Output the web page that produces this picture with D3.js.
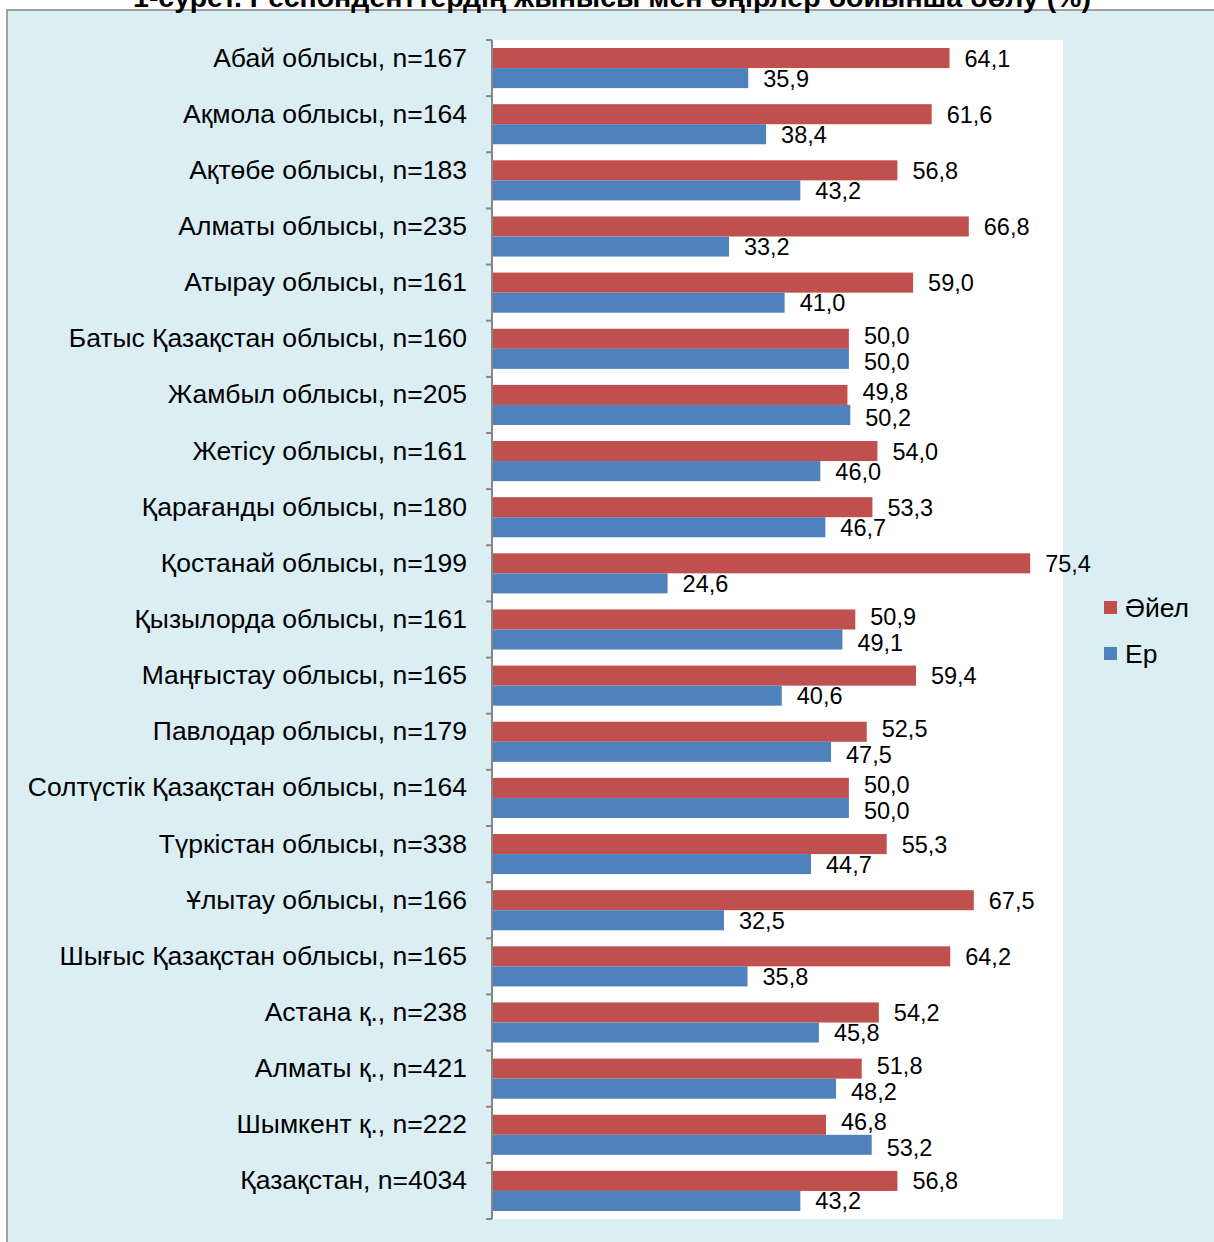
<!DOCTYPE html>
<html>
<head>
<meta charset="utf-8">
<script src="https://cdn.jsdelivr.net/npm/d3@7"></script>
<style>
  body { margin: 0; background: #fff; }
  svg { display: block; font-family: "Liberation Sans", Arial, sans-serif; }
</style>
</head>
<body>
<svg id="canvas" width="1214" height="1242"></svg>
<script>
let regions = [
  "Абай облысы, n=167", "Ақмола облысы, n=164", "Ақтөбе облысы, n=183",
  "Алматы облысы, n=235", "Атырау облысы, n=161", "Батыс Қазақстан облысы, n=160",
  "Жамбыл облысы, n=205", "Жетісу облысы, n=161", "Қарағанды облысы, n=180",
  "Қостанай облысы, n=199", "Қызылорда облысы, n=161", "Маңғыстау облысы, n=165",
  "Павлодар облысы, n=179", "Солтүстік Қазақстан облысы, n=164", "Түркістан облысы, n=338",
  "Ұлытау облысы, n=166", "Шығыс Қазақстан облысы, n=165", "Астана қ., n=238",
  "Алматы қ., n=421", "Шымкент қ., n=222", "Қазақстан, n=4034"
]
let female = [64.1, 61.6, 56.8, 66.8, 59.0, 50.0, 49.8, 54.0, 53.3, 75.4, 50.9,
              59.4, 52.5, 50.0, 55.3, 67.5, 64.2, 54.2, 51.8, 46.8, 56.8]
let male = [35.9, 38.4, 43.2, 33.2, 41.0, 50.0, 50.2, 46.0, 46.7, 24.6, 49.1,
            40.6, 47.5, 50.0, 44.7, 32.5, 35.8, 45.8, 48.2, 53.2, 43.2]
let seriesNames = ["Әйел", "Ер"]
let seriesColors = ["#c0504d", "#4f81bd"]
let title = "1-сурет. Респонденттердің жынысы мен өңірлер бойынша бөлу (%)"

let canvas = d3.select("#canvas")

// chart area
canvas.append("rect")
  .attr("x", 7).attr("y", 10).attr("width", 1220).attr("height", 1250)
  .attr("fill", "#dbeef4").attr("stroke", "#868686").attr("stroke-width", 1.5)

canvas.append("text")
  .attr("x", 612).attr("y", 7)
  .attr("text-anchor", "middle")
  .attr("font-size", 28.5).attr("font-weight", "bold")
  .text(title)

let plot = { left: 492, top: 40, right: 1063, bottom: 1219 }

canvas.append("rect")
  .attr("x", plot.left).attr("y", plot.top)
  .attr("width", plot.right - plot.left).attr("height", plot.bottom - plot.top)
  .attr("fill", "#fff")

let xScale = d3.scaleLinear().domain([0, 80]).range([plot.left, plot.right])
let yScale = d3.scaleBand().domain(regions).range([plot.top, plot.bottom])
let inner = d3.scaleBand().domain(seriesNames).range([0, yScale.bandwidth()]).paddingOuter(0.4)

let rows = regions.map((r, i) => ({ region: r, values: [female[i], male[i]] }))

let group = canvas.selectAll("g.row")
  .data(rows)
  .enter()
  .append("g")
  .attr("class", "row")
  .attr("transform", d => "translate(0," + yScale(d.region) + ")")

group.selectAll("rect")
  .data(d => d.values.map((v, k) => ({ v: v, k: k })))
  .enter()
  .append("rect")
  .attr("x", xScale(0))
  .attr("y", d => inner(seriesNames[d.k]))
  .attr("width", d => xScale(d.v) - xScale(0))
  .attr("height", inner.bandwidth())
  .attr("fill", d => seriesColors[d.k])

// labels: nudge apart when the two ends are close together
let labelW = 46
group.selectAll("text.val")
  .data(d => {
    let close = Math.abs(xScale(d.values[0]) - xScale(d.values[1])) < labelW
    return d.values.map((v, k) => ({ v: v, k: k, shift: close ? (k === 0 ? -3 : 3) : 0 }))
  })
  .enter()
  .append("text")
  .attr("class", "val")
  .attr("x", d => xScale(d.v) + 15)
  .attr("y", d => inner(seriesNames[d.k]) + inner.bandwidth() / 2 + d.shift)
  .attr("dy", "0.36em")
  .attr("font-size", 23.5)
  .text(d => d.v.toFixed(1).replace(".", ","))

group.append("text")
  .attr("x", 467)
  .attr("y", yScale.bandwidth() / 2 - 11)
  .attr("dy", "0.36em")
  .attr("text-anchor", "end")
  .attr("font-size", 26.5)
  .text(d => d.region)

// axis line with ticks at band edges
let edges = regions.map(r => yScale(r)).concat([plot.bottom])
canvas.append("line")
  .attr("x1", plot.left).attr("x2", plot.left)
  .attr("y1", plot.top).attr("y2", plot.bottom)
  .attr("stroke", "#868686").attr("stroke-width", 2)
canvas.selectAll("line.tick")
  .data(edges)
  .enter()
  .append("line")
  .attr("class", "tick")
  .attr("x1", plot.left - 6).attr("x2", plot.left)
  .attr("y1", d => d).attr("y2", d => d)
  .attr("stroke", "#868686").attr("stroke-width", 2)

// legend
let legend = canvas.selectAll("g.legend")
  .data(seriesNames)
  .enter()
  .append("g")
  .attr("class", "legend")
  .attr("transform", (d, i) => "translate(1104," + (601 + i * 46) + ")")
legend.append("rect")
  .attr("width", 13).attr("height", 13)
  .attr("fill", (d, i) => seriesColors[i])
legend.append("text")
  .attr("x", 21).attr("y", 6.5).attr("dy", "0.36em")
  .attr("font-size", 26.5)
  .text(d => d)
</script>
</body>
</html>
